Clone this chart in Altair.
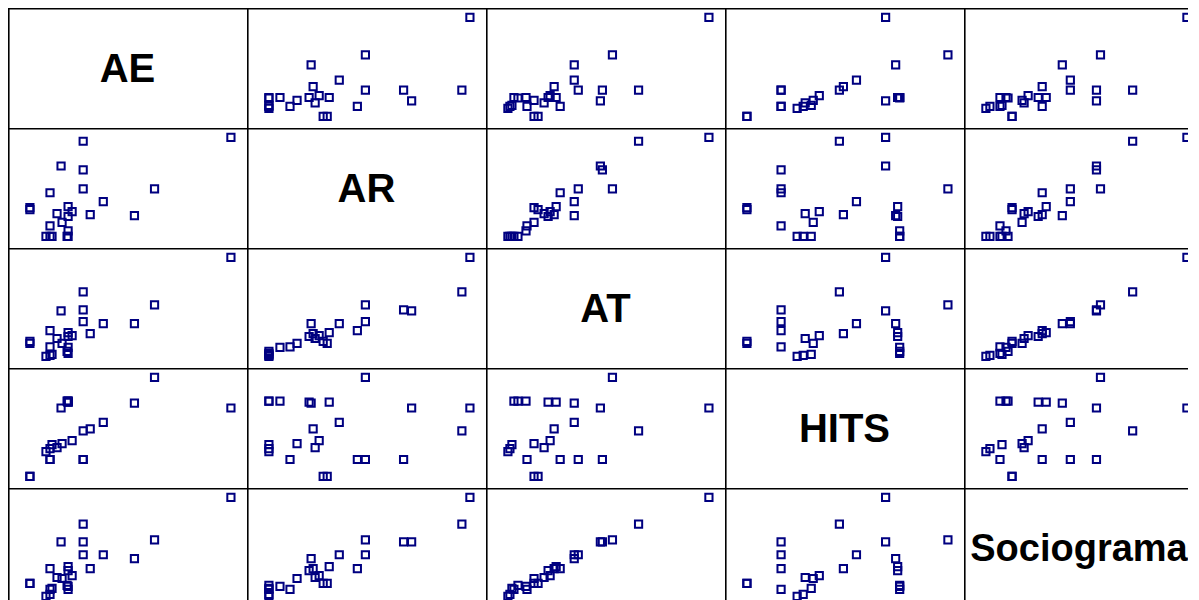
import altair as alt
import pandas as pd

variables = ["AE", "AR", "AT", "HITS", "Sociograma"]

AE = [100, 26.5, 15.5, 26.5, 10, 26.5, 62, 36.5, 0, 0, 19, 21, 13.5, 19, 30, 52, 16, 10, 19, 8, 10, 11, 18.5, 19]
AR = [100, 96, 71, 67, 44, 48, 48, 35, 27, 29, 30, 25, 23, 20, 22, 21, 14, 10.5, 5.5, 0, 0, 0, 0, 0]
AT = [100, 65, 46, 47, 26, 35, 52, 33, 15, 13, 24, 21, 18, 20, 23, 33, 13, 9.5, 9, 0, 1, 2, 5, 3]
HITS = [69, 46, 69, 17, 17, 17, 100, 54.5, 0, 0, 75, 36, 29, 75, 48, 74, 33, 17, 76, 25, 28, 32, 76, 76]
Sociograma = [100, 73, 55, 55, 28, 42, 57, 42, 13, 13, 30, 21, 19, 26, 28, 38, 18, 7, 10, 0, 2, 8, 11, 7]

df = pd.DataFrame({
    "AE": AE,
    "AR": AR,
    "AT": AT,
    "HITS": HITS,
    "Sociograma": Sociograma,
})

W, H = 239, 120
LAST_W = 224  # last column is cut by the window edge
xlo, xhi = -10.9, 108.0
ydom = [-11.8, 109.4]

one = pd.DataFrame({"a": [0]})
SW = 1.6


def borders(w):
    left = alt.Chart(one).mark_rect(color="black", strokeWidth=0).encode(
        x=alt.value(0), x2=alt.value(SW), y=alt.value(0), y2=alt.value(H)
    )
    top = alt.Chart(one).mark_rect(color="black", strokeWidth=0).encode(
        x=alt.value(0), x2=alt.value(w), y=alt.value(0), y2=alt.value(SW)
    )
    return [left, top]


rows = []
for i, vy in enumerate(variables):
    cells = []
    for j, vx in enumerate(variables):
        w = LAST_W if j == len(variables) - 1 else W
        xdom = [xlo, xlo + (xhi - xlo) * w / W]
        if i == j:
            long = len(vy) > 6
            c = alt.Chart(pd.DataFrame({"t": [vy]})).mark_text(
                fontSize=38 if long else 40, fontWeight="bold", font="Liberation Sans",
                color="black", align="center", baseline="middle", dy=2
            ).encode(
                text="t:N",
                x=alt.value(115 if long else W / 2),
                y=alt.value(H / 2),
            )
        else:
            c = alt.Chart(df).mark_point(
                shape="square", filled=False, size=52, strokeWidth=2,
                color="#000080", opacity=1, clip=True
            ).encode(
                x=alt.X(f"{vx}:Q", scale=alt.Scale(domain=xdom, nice=False, zero=False), axis=None),
                y=alt.Y(f"{vy}:Q", scale=alt.Scale(domain=ydom, nice=False, zero=False), axis=None),
            )
        cells.append(alt.layer(c, *borders(w)).properties(width=w, height=H))
    rows.append(alt.hconcat(*cells, spacing=0))

chart = alt.vconcat(*rows, spacing=0).properties(padding=0).configure_view(stroke=None)

chart.save("out.html", embed_options={"renderer": "svg", "actions": False})
